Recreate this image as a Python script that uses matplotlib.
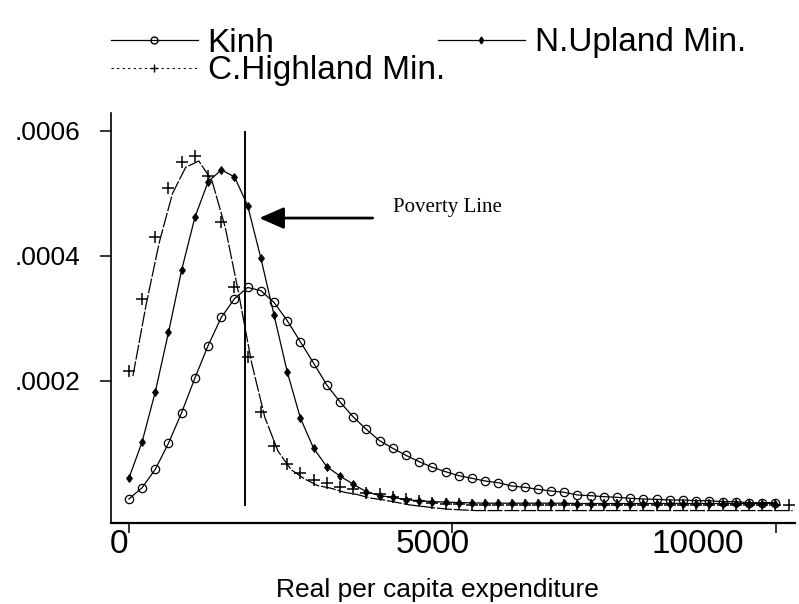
import numpy as np
import matplotlib
matplotlib.use('Agg')
import matplotlib.pyplot as plt
from matplotlib import transforms
from matplotlib.lines import Line2D

plt.rcParams['font.family'] = 'Liberation Sans'

# evaluation grid of the kernel densities (real per capita expenditure)
X = [0, 204, 408, 612, 816, 1020, 1224, 1428, 1632, 1836,
     2040, 2244, 2448, 2652, 2856, 3060, 3264, 3468, 3672, 3876,
     4080, 4284, 4488, 4692, 4896, 5100, 5304, 5508, 5712, 5916,
     6120, 6324, 6528, 6732, 6936, 7140, 7344, 7548, 7752, 7956,
     8160, 8364, 8568, 8772, 8976, 9180, 9384, 9588, 9792, 9996]
X_CH = X + [10200]

KINH = [0.0000107, 0.0000288, 0.0000582, 0.0000998, 0.000149, 0.000204, 0.000256, 0.000301, 0.000331, 0.000349,
        0.000344, 0.000325, 0.000296, 0.000262, 0.000228, 0.000193, 0.000166, 0.000142, 0.000122, 0.000104,
        0.0000918, 0.0000805, 0.0000704, 0.0000614, 0.0000544, 0.000048, 0.0000438, 0.0000395, 0.0000368, 0.0000315,
        0.0000294, 0.0000262, 0.0000235, 0.0000214, 0.0000171, 0.000016, 0.0000144, 0.0000134, 0.0000118, 0.0000107,
        0.0000102, 0.0000091, 0.0000091, 0.000008, 0.000008, 0.0000064, 0.0000064, 0.0000048, 0.0000048, 0.0000048]
N_UPLAND = [0.0000438, 0.000102, 0.000182, 0.000277, 0.000377, 0.000461, 0.000518, 0.000537, 0.000526, 0.000480,
            0.000396, 0.000305, 0.000214, 0.000140, 0.0000918, 0.0000624, 0.0000475, 0.0000342, 0.0000224, 0.000016,
            0.0000134, 0.0000095, 0.000008, 0.0000065, 0.0000058, 0.000005, 0.0000045, 0.000004, 0.000004, 0.000004,
            0.000004, 0.000004, 0.000004, 0.000004, 0.0000035, 0.0000035, 0.0000035, 0.0000035, 0.0000035, 0.0000035,
            0.0000035, 0.0000035, 0.0000035, 0.0000035, 0.0000035, 0.0000035, 0.0000035, 0.0000035, 0.0000035, 0.0000035]
C_HIGHLAND = [0.000216, 0.00033, 0.00043, 0.000508, 0.00055, 0.00056, 0.000528, 0.000454, 0.00035, 0.000237,
              0.00015, 0.000096, 0.0000662, 0.0000518, 0.000041, 0.0000368, 0.0000304, 0.0000267, 0.000021, 0.000018,
              0.000014, 0.00001, 0.0000075, 0.000005, 0.000003, 0.000002, 0.000001, 0.000001, 0.000001, 0.000001,
              0.000001, 0.000001, 0.000001, 0.000001, 0.000001, 0.000001, 0.000001, 0.000001, 0.000001, 0.000001,
              0.000001, 0.000001, 0.000001, 0.000001, 0.000001, 0.000001, 0.000001, 0.000001, 0.000001, 0.000001,
              0.000001]

POVERTY_LINE = 1790
ARROW_TIP = (2016, 0.00046)
ARROW_TAIL = (3769, 0.00046)
POVERTY_TEXT_POS = (4078, 0.000477)
XTICKS = [0, 5000, 10000]
XTICK_LABELS = ['0', '5000', '10000']
XLABEL_SHIFT_PX = [-10, -20, -78]   # the printed labels sit left of their ticks
YTICKS = [0.0002, 0.0004, 0.0006]
YTICK_LABELS = ['.0002', '.0004', '.0006']

fig = plt.figure(figsize=(7.99, 6.04), dpi=100)
ax = fig.add_axes([0.1389, 0.1346, 0.856, 0.6783])

ax.plot(X, KINH, '-', color='black', lw=0.9, marker='o', ms=6, mfc='none', mew=0.9)
ax.plot(X, N_UPLAND, '-', color='black', lw=0.9, marker='d', ms=4.5, mfc='black', mew=0.6)
# the density line of C.Highland is printed slightly off its symbols (scan misregistration)
shift = transforms.ScaledTranslation(4 / 100, -5.5 / 100, fig.dpi_scale_trans)
ax.plot(X_CH, C_HIGHLAND, color='black', lw=0.9, ls=(0, (12, 1.5)), transform=ax.transData + shift)
ax.plot(X_CH, C_HIGHLAND, ls='none', color='black', marker='+', ms=8, mew=1.1)

ax.vlines(POVERTY_LINE, 0, 0.0006, color='black', lw=1.4)
ax.annotate('', xy=ARROW_TIP, xytext=ARROW_TAIL,
            arrowprops=dict(arrowstyle='-|>,head_length=0.75,head_width=0.33', mutation_scale=20,
                            lw=2, color='black', shrinkA=0, shrinkB=0))
ax.text(*POVERTY_TEXT_POS, 'Poverty Line', family='Liberation Serif', fontsize=15, va='center')

ax.set_xlim(-277, 10298)
ax.set_ylim(-0.0000272, 0.000628)
for s in ('top', 'right'):
    ax.spines[s].set_visible(False)
ax.spines['left'].set_linewidth(1.2)
ax.spines['bottom'].set_linewidth(1.6)

ax.set_xticks(XTICKS)
ax.set_xticklabels([])
ax.tick_params(axis='x', length=7.5, width=1.1, direction='out')
for xt, lab, dx in zip(XTICKS, XTICK_LABELS, XLABEL_SHIFT_PX):
    tr = transforms.blended_transform_factory(ax.transData, ax.transAxes) + \
        transforms.ScaledTranslation(dx / 100, 0, fig.dpi_scale_trans)
    ax.text(xt, -0.016, lab, transform=tr, ha='center', va='top', fontsize=24)
ax.set_yticks(YTICKS)
ax.set_yticklabels(YTICK_LABELS, fontsize=19)
ax.tick_params(axis='y', length=8, width=1.1, pad=14)

fig.text(437 / 799, 1 - 590 / 604, 'Real per capita expenditure', ha='center', va='center', fontsize=19)

# legend, hand placed as in the original print
h_kinh = Line2D([], [], color='black', lw=0.9, marker='o', ms=5, mfc='none')
h_nup = Line2D([], [], color='black', lw=0.9, marker='d', ms=3.5, mfc='black')
h_chl = Line2D([], [], color='black', lw=0.8, ls=(0, (2, 3)), marker='+', ms=6)
for h, lab, x0, y0 in [(h_kinh, 'Kinh', 111, 43), (h_nup, 'N.Upland Min.', 438, 43),
                       (h_chl, 'C.Highland Min.', 111, 71)]:
    fig.legend(handles=[h], labels=[lab], loc='center left', bbox_to_anchor=(x0 / 799, 1 - y0 / 604),
               frameon=False, fontsize=24, handlelength=2.6, handletextpad=0.3,
               borderpad=0, borderaxespad=0, numpoints=1)

fig.savefig('out.png', dpi=100)
